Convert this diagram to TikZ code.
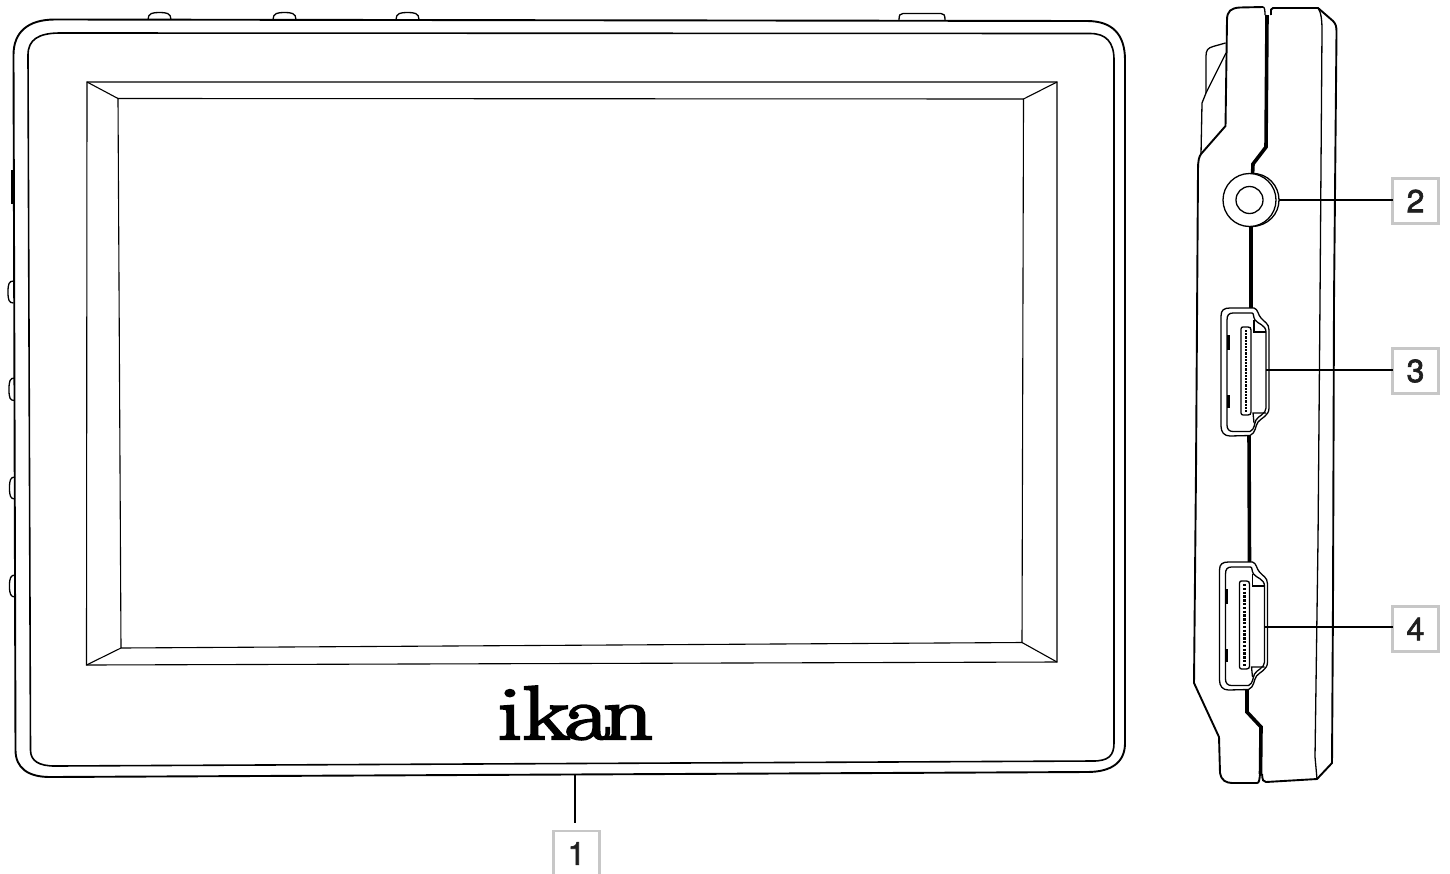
\documentclass[tikz,border=0pt]{standalone}
\usepackage{fontspec}
\newfontfamily\digitfont[FakeBold=2]{TeX Gyre Heros}
\newfontfamily\logofont[FakeBold=3]{Latin Modern Roman}
\newcommand{\hdmiport}[1]{%
  \draw[thinln,fill=white] (1221,316) .. controls (1221,310) and (1224,308) .. (1230,308) -- (1254,308)
    .. controls (1258,309) and (1258,315) .. (1261,318) .. controls (1264,322) and (1269,323) .. (1269,330)
    -- (1269,408) .. controls (1269,416) and (1261,418) .. (1258,422) .. controls (1255,426) and (1256,433) .. (1250,435.5)
    -- (1230,436) .. controls (1224,436) and (1221,432) .. (1221,426) -- cycle;
  \draw[thinln] (1227,320) .. controls (1227,315) and (1229,313) .. (1233,313) -- (1252,313)
    .. controls (1254,313) and (1253,317) .. (1255,320) .. controls (1258,324) and (1266,325) .. (1266,332)
    -- (1266,408) .. controls (1266,414) and (1258,416) .. (1256,420) .. controls (1254,424) and (1255,429) .. (1250,431.5)
    -- (1233,431.5) .. controls (1229,431.5) and (1227,429) .. (1227,425) -- cycle;
  \draw[thinln] (1254,320) -- (1254,332) -- (1266,332);
  \draw[thinln] (1266,413) -- (1253,413) -- (1254,423);
  \draw[thinln] (1241,329) .. controls (1241,327.5) and (1242,327) .. (1243,327) -- (1248,327)
    .. controls (1250,327) and (1251,328) .. (1251,330) -- (1251,412) .. controls (1251,414) and (1250,415) .. (1248,415)
    -- (1243,415) .. controls (1242,415) and (1241,414) .. (1241,413) -- cycle;
  \draw[line width=2.2pt,dash pattern=#1] (1246,330) -- (1246,413);
  \draw[line width=2.6pt] (1228.5,335) -- (1228.5,350) (1228.5,395) -- (1228.5,408);
}
\begin{document}
\begin{tikzpicture}[x=1pt,y=-1pt,
  outerln/.style={line width=1.9pt,black},
  innerln/.style={line width=1.6pt,black},
  thinln/.style={line width=1.3pt,black},
  screenln/.style={line width=1.1pt,black},
  seam/.style={line width=3.6pt,black},
  leader/.style={line width=2pt,black},
  numbox/.style={draw=black!22,line width=2.4pt,fill=white,minimum width=46pt,minimum height=45pt,inner sep=0pt,outer sep=0pt,
    font=\digitfont\fontsize{32}{32}\selectfont,text=black!88}]
\useasboundingbox[fill=white] (0,0) rectangle (1450,873);
% front buttons
\foreach \a/\b in {148/171,273/296,396/419}
  \draw[thinln] (\a,19.5) .. controls (\a,13) and (\a+5,12.5) .. (\a+11.5,12.5) .. controls (\b-5,12.5) and (\b,13) .. (\b,19.5);
\draw[thinln] (899,20) .. controls (899,15) and (900,13.5) .. (903,13.5) -- (941,13.5) .. controls (944,13.5) and (945,15) .. (945,20);
\draw[thinln] (13.5,303) .. controls (9,303) and (8,300) .. (8,292) .. controls (8,284) and (9,281) .. (13.5,281);
\draw[thinln] (14.5,400.5) .. controls (10,400.5) and (9,398) .. (9,389.5) .. controls (9,381) and (10,378) .. (14.5,378);
\draw[thinln] (15,499) .. controls (10.5,499) and (9.5,496) .. (9.5,488) .. controls (9.5,480) and (10.5,477) .. (15,477);
\draw[thinln] (15.5,597) .. controls (10.5,597) and (9.5,594) .. (9.5,586) .. controls (9.5,578) and (10.5,575) .. (15.5,575);
\draw[line width=2.6pt] (12.2,170) -- (12.2,204);
% front body
\draw[outerln] (55,19.5) -- (1087,21) .. controls (1112,21) and (1125,34) .. (1125,60) -- (1125,743)
  .. controls (1125,762) and (1112,772) .. (1087,772) -- (50,777) .. controls (28,777) and (15.5,768) .. (15.5,750)
  -- (13.5,55) .. controls (13.5,32) and (28,19.5) .. (55,19.5) -- cycle;
\draw[innerln] (60,33) -- (1090,33.5) .. controls (1106,33.5) and (1114,42) .. (1114,60) -- (1114,743)
  .. controls (1114,756) and (1108,761) .. (1093,761) -- (55,766) .. controls (39,766) and (30.5,761) .. (30.5,750)
  -- (28,55) .. controls (28,40) and (38,33) .. (60,33) -- cycle;
% screen
\draw[screenln] (87,82) -- (1057,82) -- (1057,662) -- (86.5,665) -- cycle;
\draw[screenln] (118,98.5) -- (1023.5,99) -- (1022,642.5) -- (121,648) -- cycle;
\draw[screenln] (87,82) -- (118,98.5) (1057,82) -- (1023.5,99) (1057,662) -- (1022,642.5) (86.5,665) -- (121,648);
% logo
\node[inner sep=0pt,anchor=base,xscale=1.29] (logo) at (575.5,739) {\logofont\fontsize{76}{76}\selectfont i\kern0pt k\kern-4pt a\kern-5pt n};
% side view
\draw[outerln] (1263,7) -- (1240,7.5) .. controls (1231,8) and (1227,11) .. (1227,20) -- (1225.5,126) -- (1201,154)
  .. controls (1199,157) and (1198,160) .. (1198,170) -- (1196,470) -- (1194,683) -- (1219,737)
  -- (1220,773) .. controls (1221,780) and (1226,783) .. (1232,783) -- (1257,783) .. controls (1259,783) and (1259.5,780) .. (1260,774);
\draw[thinln] (1263,7) .. controls (1264.5,7) and (1265,10) .. (1265,15);
\draw[thinln] (1225.5,43) -- (1213,46.5) .. controls (1208,48) and (1206,50) .. (1206,56) -- (1206,93);
\draw[thinln] (1226,53) -- (1206,93) -- (1202,103) -- (1201,154);
\draw[outerln] (1271,15) .. controls (1271,10) and (1270.5,8) .. (1273,8) -- (1318,8) -- (1333,21)
  .. controls (1336,24) and (1336.5,27) .. (1336.5,32) -- (1334,300) -- (1333,600) -- (1332,763) -- (1317,779) -- (1266,782) .. controls (1263,782) and (1262.5,780) .. (1262,774);
\draw[thinln] (1318,8) .. controls (1321,12) and (1322,20) .. (1322,30) -- (1320,300) -- (1318,540) -- (1315,757) -- (1317,779);
\draw[seam] (1267,15) -- (1266,147) -- (1253,164) -- (1252.5,175);
\draw[seam] (1251,224) -- (1251,310);
\draw[seam] (1249,434) -- (1249.5,565);
\draw[seam] (1247,688) -- (1247,712) -- (1261,727) -- (1260.5,774);
% jack
\draw[thinln,fill=white] (1252,173.5) .. controls (1268,173) and (1279,186) .. (1279,200) .. controls (1279,214) and (1268,226) .. (1252,226.5) -- cycle;
\node[circle,draw=black,line width=1.3pt,fill=white,minimum size=53pt,inner sep=0pt] (jack) at (1249.5,200) {};
\node[circle,draw=black,line width=1.3pt,minimum size=27pt,inner sep=0pt] (jackin) at (1249.5,200) {};
\coordinate (jackend) at (1279,200);
% ports
\hdmiport{on 2.2pt off 1pt}
\begin{scope}[shift={(-1.5,254)}]
\hdmiport{on 2.4pt off 1.4pt}
\end{scope}
\coordinate (port3) at (1266,369.5);
\coordinate (port4) at (1265,627);
\coordinate (bottomedge) at (575,775);
% labels
\node[numbox] (n1) at (576.5,853.5) {1};
\node[numbox] (n2) at (1415.5,201) {2};
\node[numbox] (n3) at (1415.5,371) {3};
\node[numbox] (n4) at (1415.5,629) {4};
\draw[leader] (bottomedge) -- (575,823);
\draw[leader] (jackend) -- (n2.west |- jackend);
\draw[leader] (port3) -- (n3.west |- port3);
\draw[leader] (port4) -- (n4.west |- port4);
\end{tikzpicture}
\end{document}
